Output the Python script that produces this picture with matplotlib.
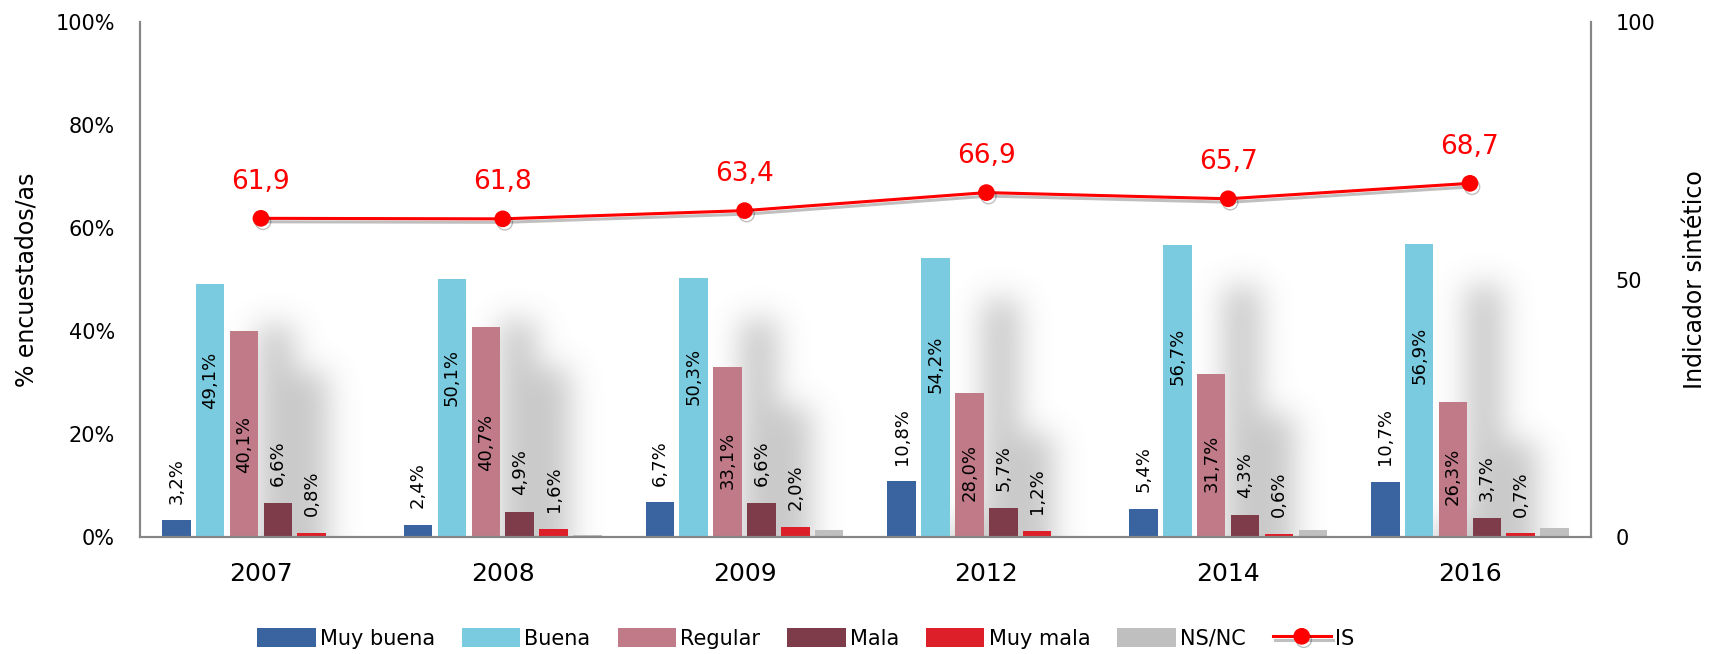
import matplotlib
matplotlib.use("Agg")
import matplotlib.pyplot as plt
import matplotlib.patheffects as pe
import numpy as np

years = ["2007", "2008", "2009", "2012", "2014", "2016"]
categorias = ["Muy buena", "Buena", "Regular", "Mala", "Muy mala", "NS/NC"]
muy_buena = [3.2, 2.4, 6.7, 10.8, 5.4, 10.7]
buena = [49.1, 50.1, 50.3, 54.2, 56.7, 56.9]
regular = [40.1, 40.7, 33.1, 28.0, 31.7, 26.3]
mala = [6.6, 4.9, 6.6, 5.7, 4.3, 3.7]
muy_mala = [0.8, 1.6, 2.0, 1.2, 0.6, 0.7]
ns_nc = [0.2, 0.3, 1.3, 0.0, 1.3, 1.7]   # sin etiqueta, leído a ojo
IS = [61.9, 61.8, 63.4, 66.9, 65.7, 68.7]

series = [muy_buena, buena, regular, mala, muy_mala, ns_nc]
colores = ["#3A64A0", "#7ACBE0", "#C07A88", "#7E3B4A", "#DD1F2A", "#BFBFBF"]

plt.rcParams['font.family'] = ['DejaVu Sans']

fig = plt.figure(figsize=(17.18, 6.54), dpi=100)
ax = fig.add_axes([0.0815, 0.179, 0.8445, 0.787])
ax2 = ax.twinx()

x = np.arange(len(years))
slot = 0.14
ancho = 0.118
offsets = (np.arange(6) - 2.5) * slot

# sombra difuminada (efecto de Excel)
nx, ny = 1450, 515
xs = np.linspace(-0.5, 5.5, nx)
ys = np.linspace(0, 100, ny)
mask = np.zeros((ny, nx))
for vals, off in zip(series, offsets):
    for xi, v in zip(x, vals):
        x0 = xi + off + 1.8 * slot - ancho / 2
        cols = (xs >= x0) & (xs <= x0 + ancho * 1.3)
        rows = ys <= v - 8
        mask[np.ix_(rows, cols)] = 1.0

def kernel(s):
    k = np.arange(-3 * int(s), 3 * int(s) + 1)
    g = np.exp(-0.5 * (k / s) ** 2)
    return g / g.sum()

pad = 60
big = np.pad(mask, pad, mode='edge')
big = np.apply_along_axis(lambda r: np.convolve(r, kernel(15), mode='same'), 1, big)
big = np.apply_along_axis(lambda c: np.convolve(c, kernel(15), mode='same'), 0, big)
blur = big[pad:-pad, pad:-pad]
rgba = np.zeros((ny, nx, 4))
rgba[..., :3] = 0.5
rgba[..., 3] = 0.42 * blur
ax.imshow(rgba, extent=[-0.5, 5.5, 0, 100], origin='lower', aspect='auto',
          zorder=1, interpolation='bilinear')

barras = []
for i, (vals, off) in enumerate(zip(series, offsets)):
    b = ax.bar(x + off, vals, ancho, color=colores[i], label=categorias[i], zorder=2)
    barras.append(b)

def fmt(v):
    return ("%.1f%%" % v).replace(".", ",")

for i, (vals, off) in enumerate(zip(series[:5], offsets[:5])):
    for xi, v in zip(x, vals):
        if i == 1:
            ax.text(xi + off, v * 0.62, fmt(v), rotation=90, ha='center', va='center',
                    fontsize=13, zorder=4)
        elif i == 2:
            ax.text(xi + off, v * 0.45, fmt(v), rotation=90, ha='center', va='center',
                    fontsize=13, zorder=4)
        else:
            ax.annotate(fmt(v), (xi + off, v), xytext=(0, 12), textcoords='offset points',
                        rotation=90, ha='center', va='bottom', fontsize=13, zorder=4)

ax.set_xlim(-0.5, 5.5)
ax.set_ylim(0, 100)
ax.set_yticks([0, 20, 40, 60, 80, 100])
ax.set_yticklabels(["%d%%" % t for t in [0, 20, 40, 60, 80, 100]])
ax.set_xticks(x)
ax.set_xticklabels(years, fontsize=18)
ax.tick_params(axis='y', length=0, pad=18, labelsize=15)
ax.tick_params(axis='x', length=0, pad=18)
ax.set_ylabel("% encuestados/as", fontsize=17, labelpad=12)

ln, = ax2.plot(x, IS, color='#FF0000', lw=2.2, marker='o', markersize=11, label='IS',
               zorder=5, path_effects=[pe.SimpleLineShadow(offset=(1.5, -2.5), alpha=0.25),
                                       pe.Normal()])
for xi, v in zip(x, IS):
    ax2.annotate(("%.1f" % v).replace(".", ","), (xi, v), xytext=(0, 17),
                 textcoords='offset points', ha='center', va='bottom',
                 fontsize=19, color='#FF0000')
ax2.set_ylim(0, 100)
ax2.set_yticks([0, 50, 100])
ax2.tick_params(axis='y', length=0, pad=18, labelsize=15)
ax2.set_ylabel("Indicador sintético", fontsize=17, labelpad=20)

for a in (ax, ax2):
    a.spines['top'].set_visible(False)
    for s in ('left', 'right', 'bottom'):
        a.spines[s].set_color('#868686')
        a.spines[s].set_linewidth(1.5)

handles = barras + [ln]
labels = categorias + ['IS']
fig.legend(handles, labels, loc='center', bbox_to_anchor=(0.469, 0.024), ncol=7,
           frameon=False, handlelength=2.8, handleheight=1.0,
           handletextpad=0.2, columnspacing=1.3,
           prop={'family': ['DejaVu Sans'], 'size': 15})

fig.savefig("out.png", dpi=100)
